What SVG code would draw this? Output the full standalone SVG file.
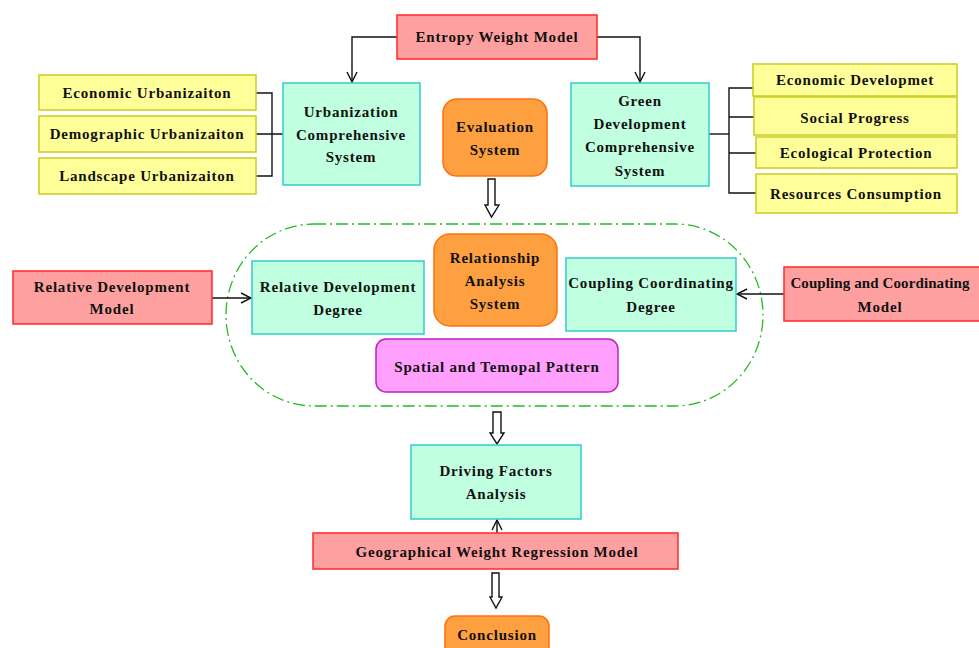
<svg xmlns="http://www.w3.org/2000/svg" width="979" height="648" viewBox="0 0 979 648">
<defs>
<marker id="open" viewBox="0 0 12 12" refX="11" refY="6" markerWidth="12" markerHeight="12" markerUnits="userSpaceOnUse" orient="auto">
<path d="M1,1 L11,6 L1,11" fill="none" stroke="#111" stroke-width="1.4"/>
</marker>
<style>
text{font-family:"Liberation Serif","Times New Roman",serif;font-weight:bold;font-size:15px;fill:#111;text-anchor:middle;letter-spacing:0.8px}
.tight{letter-spacing:0.1px}
.red{fill:#FFA0A0;stroke:#FF2A2A;stroke-width:1.5}
.mint{fill:#C0FFE0;stroke:#33CCCC;stroke-width:1.5}
.yel{fill:#FFFF99;stroke:#CCCC22;stroke-width:1.5}
.org{fill:#FFA040;stroke:#FF7010;stroke-width:1.5}
.mag{fill:#FFA0FF;stroke:#BB22BB;stroke-width:1.5}
.ln{fill:none;stroke:#111;stroke-width:1.4}
.hollow{fill:#fff;stroke:#111;stroke-width:1.4}
</style>
</defs>

<g id="analysis-frame">
<rect x="226" y="224" width="537" height="182" rx="88" ry="91" fill="none" stroke="#22BB22" stroke-width="1.3" stroke-dasharray="12,4,2,4"/>
</g>

<g id="connectors">
<path class="ln" d="M397,37 H352 V82" marker-end="url(#open)"/>
<path class="ln" d="M597,37 H640 V82" marker-end="url(#open)"/>
<path class="ln" d="M256,93 H272 V176 H256 M256,134 H283"/>
<path class="ln" d="M754,88 H729 V193 H756 M729,117 H754 M729,153 H756"/>
<path class="ln" d="M709,134 H729" stroke-width="2"/>
<path class="ln" d="M212,298 H251" marker-end="url(#open)"/>
<path class="ln" d="M784,294 H737" marker-end="url(#open)"/>
<path class="ln" d="M497,533 H497 V520" marker-end="url(#open)"/>
<path class="hollow" d="M488,179 H495 V205 H499 L491.5,217 L485,205 H488 Z"/>
<path class="hollow" d="M493,412 H501 V433 H504 L497,444 L490,433 H493 Z"/>
<path class="hollow" d="M492,573 H499 V597 H502 L496,608 L490,597 H492 Z"/>
</g>

<g id="entropy-weight-model">
<rect class="red" x="397" y="15" width="200" height="44"/>
<text x="497" y="42">Entropy Weight Model</text>
</g>

<g id="economic-urbanization">
<rect class="yel" x="39" y="75" width="217" height="35"/>
<text x="147" y="98">Economic Urbanizaiton</text>
</g>
<g id="demographic-urbanization">
<rect class="yel" x="39" y="116" width="217" height="36"/>
<text x="147" y="139">Demographic Urbanizaiton</text>
</g>
<g id="landscape-urbanization">
<rect class="yel" x="39" y="158" width="217" height="36"/>
<text x="147" y="181">Landscape Urbanizaiton</text>
</g>

<g id="urbanization-system">
<rect class="mint" x="283" y="83" width="137" height="102"/>
<text x="351" y="117">Urbanization</text>
<text x="351" y="140">Comprehensive</text>
<text x="351" y="162">System</text>
</g>

<g id="evaluation-system">
<rect class="org" x="443" y="99" width="104" height="77" rx="14"/>
<text x="495" y="132">Evaluation</text>
<text x="495" y="155">System</text>
</g>

<g id="green-development-system">
<rect class="mint" x="571" y="83" width="138" height="103"/>
<text x="640" y="106">Green</text>
<text x="640" y="129">Development</text>
<text x="640" y="152">Comprehensive</text>
<text x="640" y="176">System</text>
</g>

<g id="economic-development">
<rect class="yel" x="753" y="64" width="204" height="32"/>
<text x="855" y="85">Economic Developmet</text>
</g>
<g id="social-progress">
<rect class="yel" x="754" y="97" width="203" height="38"/>
<text x="855" y="123">Social Progress</text>
</g>
<g id="ecological-protection">
<rect class="yel" x="756" y="137" width="201" height="31"/>
<text x="856" y="158">Ecological Protection</text>
</g>
<g id="resources-consumption">
<rect class="yel" x="756" y="174" width="201" height="39"/>
<text x="856" y="199">Resources Consumption</text>
</g>

<g id="relative-development-model">
<rect class="red" x="13" y="271" width="199" height="53"/>
<text x="112" y="292">Relative Development</text>
<text x="112" y="314">Model</text>
</g>

<g id="relative-development-degree">
<rect class="mint" x="252" y="261" width="172" height="73"/>
<text x="338" y="292">Relative Development</text>
<text x="338" y="315">Degree</text>
</g>

<g id="relationship-analysis-system">
<rect class="org" x="434" y="234" width="123" height="92" rx="16"/>
<text x="495" y="263">Relationship</text>
<text x="495" y="286">Analysis</text>
<text x="495" y="309">System</text>
</g>

<g id="coupling-coordinating-degree">
<rect class="mint" x="566" y="258" width="170" height="73"/>
<text x="651" y="288">Coupling Coordinating</text>
<text x="651" y="312">Degree</text>
</g>

<g id="coupling-coordinating-model">
<rect class="red" x="784" y="267" width="200" height="54"/>
<text class="tight" x="880" y="288">Coupling and Coordinating</text>
<text x="880" y="312">Model</text>
</g>

<g id="spatial-temporal-pattern">
<rect class="mag" x="376" y="339" width="242" height="53" rx="10"/>
<text x="497" y="372">Spatial and Temopal Pattern</text>
</g>

<g id="driving-factors-analysis">
<rect class="mint" x="411" y="445" width="170" height="74"/>
<text x="496" y="476">Driving Factors</text>
<text x="496" y="499">Analysis</text>
</g>

<g id="gwr-model">
<rect class="red" x="313" y="533" width="365" height="36"/>
<text x="497" y="557">Geographical Weight Regression Model</text>
</g>

<g id="conclusion">
<rect class="org" x="445" y="616" width="104" height="50" rx="10"/>
<text x="497" y="640">Conclusion</text>
</g>
</svg>
